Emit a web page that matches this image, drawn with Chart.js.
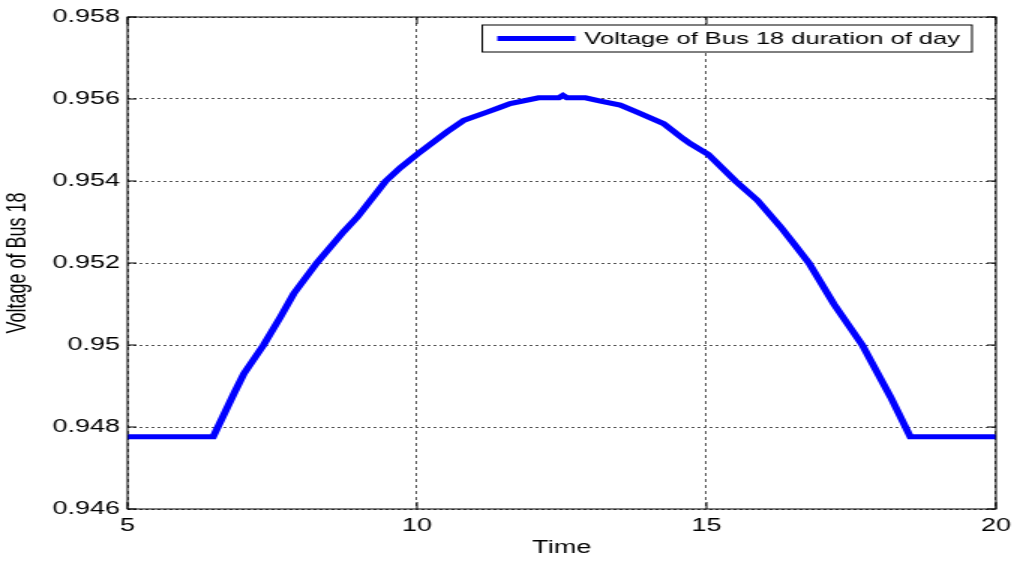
<!DOCTYPE html>
<html>
<head>
<meta charset="utf-8">
<script src="https://cdn.jsdelivr.net/npm/chart.js"></script>
<style>
  body { margin: 0; background: #fff; }
  /* the original figure is stretched sideways, so draw narrow and widen */
  #wrap { width: 680px; height: 561px; transform: scaleX(1.5); transform-origin: 0 0; }
</style>
</head>
<body>
<div id="wrap"><canvas id="busChart"></canvas></div>
<script>
const seriesLabel = "Voltage of Bus 18 duration of day";
const timeValues = [5, 6.48, 6.84, 7.01, 7.35, 7.64, 7.87, 8.27, 8.73, 8.97, 9.46, 9.71, 10.0, 10.52, 10.81,
  11.21, 11.44, 11.61, 12.1, 12.45, 12.52, 12.59, 12.91, 13.17, 13.51, 13.8, 14.26, 14.6, 14.72, 15.03,
  15.5, 15.88, 16.28, 16.51, 16.77, 17.2, 17.69, 18.18, 18.52, 20];
const voltageValues = [0.94776, 0.94776, 0.94882, 0.94930, 0.95000, 0.95068, 0.95125, 0.95200, 0.95276, 0.95312,
  0.95400, 0.95432, 0.95465, 0.95520, 0.95548, 0.95568, 0.95580, 0.95589, 0.95603, 0.95603, 0.95609,
  0.95603, 0.95603, 0.95595, 0.95585, 0.95568, 0.95540, 0.95503, 0.95491, 0.95465, 0.95400, 0.95353,
  0.95288, 0.95247, 0.95200, 0.95100, 0.95000, 0.94873, 0.94776, 0.94776];
const xTicks = [5, 10, 15, 20];
const yTicks = [0.946, 0.948, 0.95, 0.952, 0.954, 0.956, 0.958];

const fontFamily = '"Liberation Sans", Arial, sans-serif';

// box round the axes, inward ticks and the boxed legend, MATLAB style
const matlabBox = {
  id: 'matlabBox',
  afterDraw(chart) {
    const ctx = chart.ctx;
    const a = chart.chartArea;
    const xs = chart.scales.x, ys = chart.scales.y;
    ctx.save();
    ctx.setLineDash([]);
    ctx.strokeStyle = '#000';
    ctx.lineWidth = 1;
    ctx.strokeRect(a.left, a.top, a.width, a.height);

    ctx.beginPath();
    yTicks.forEach(v => {
      const y = ys.getPixelForValue(v);
      ctx.moveTo(a.left, y); ctx.lineTo(a.left + 6, y);
      ctx.moveTo(a.right, y); ctx.lineTo(a.right - 6, y);
    });
    xTicks.forEach(v => {
      const x = xs.getPixelForValue(v);
      ctx.moveTo(x, a.bottom); ctx.lineTo(x, a.bottom - 7);
      ctx.moveTo(x, a.top); ctx.lineTo(x, a.top + 7);
    });
    ctx.stroke();

    // legend
    const ds = chart.data.datasets[0];
    ctx.font = '17px ' + fontFamily;
    const textW = ctx.measureText(ds.label).width;
    const boxW = 10 + 52 + 6 + textW + 8;
    const boxH = 27;
    const boxX = a.right - 16 - boxW;
    const boxY = a.top + 8;
    ctx.fillStyle = '#fff';
    ctx.fillRect(boxX, boxY, boxW, boxH);
    ctx.strokeRect(boxX, boxY, boxW, boxH);
    ctx.strokeStyle = ds.borderColor;
    ctx.lineWidth = 5;
    ctx.beginPath();
    ctx.moveTo(boxX + 10, boxY + boxH / 2);
    ctx.lineTo(boxX + 62, boxY + boxH / 2);
    ctx.stroke();
    ctx.fillStyle = '#000';
    ctx.textBaseline = 'middle';
    ctx.textAlign = 'left';
    ctx.fillText(ds.label, boxX + 68, boxY + boxH / 2 + 1);
    ctx.restore();
  }
};

const points = timeValues.map((t, i) => ({ x: t, y: voltageValues[i] }));

new Chart(document.getElementById('busChart'), {
  type: 'line',
  data: {
    datasets: [{
      label: seriesLabel,
      data: points,
      borderColor: '#0000ff',
      borderWidth: 5,
      pointRadius: 0,
      tension: 0,
      fill: false
    }]
  },
  options: {
    responsive: true,
    maintainAspectRatio: false,
    animation: false,
    layout: { padding: { top: 17, right: 15.5, bottom: 0, left: 0 } },
    plugins: { legend: { display: false }, tooltip: { enabled: false } },
    scales: {
      x: {
        type: 'linear',
        min: 5,
        max: 20,
        afterBuildTicks: scale => { scale.ticks = xTicks.map(v => ({ value: v })); },
        afterFit: scale => { scale.height = 52; },
        ticks: {
          color: '#000',
          padding: 6,
          font: { family: fontFamily, size: 18 },
          callback: v => String(v)
        },
        grid: { color: '#555', drawTicks: false, lineWidth: 1 },
        border: { display: false, dash: [3, 3] },
        title: {
          display: true,
          text: 'Time',
          color: '#000',
          font: { family: fontFamily, size: 18 },
          padding: { top: 0, bottom: 2 }
        }
      },
      y: {
        min: 0.946,
        max: 0.958,
        afterBuildTicks: scale => { scale.ticks = yTicks.map(v => ({ value: v })); },
        afterFit: scale => { scale.width = 85; },
        ticks: {
          color: '#000',
          padding: 5,
          font: { family: fontFamily, size: 18 },
          callback: v => String(+v.toFixed(3))
        },
        grid: { color: '#555', drawTicks: false, lineWidth: 1 },
        border: { display: false, dash: [2, 2] },
        title: {
          display: true,
          text: 'Voltage of Bus 18',
          color: '#000',
          font: { family: fontFamily, size: 18 },
          padding: { top: 1, bottom: 0 }
        }
      }
    }
  },
  plugins: [matlabBox]
});
</script>
</body>
</html>
